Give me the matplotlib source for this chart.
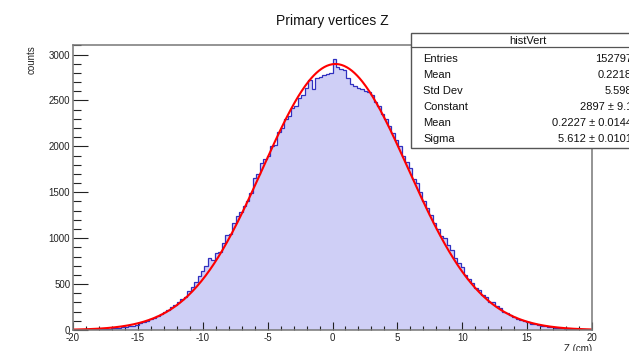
import numpy as np
import matplotlib
matplotlib.use("Agg")
import matplotlib.pyplot as plt
from matplotlib.ticker import MultipleLocator
from matplotlib.patches import Rectangle
from matplotlib.lines import Line2D

plt.rcParams['font.family'] = ['Liberation Sans', 'DejaVu Sans']
plt.rcParams['axes.unicode_minus'] = False

# ---- data ----
x_range = (-20.0, 20.0)
n_bins = 150
counts = [
    2, 3, 4, 4, 6, 7, 8, 10, 11, 13,
    15, 18, 21, 25, 30, 35, 40, 48, 55, 72,
    88, 100, 118, 135, 150, 170, 195, 222, 250, 270,
    300, 335, 360, 420, 470, 520, 590, 640, 700, 785,
    760, 840, 850, 945, 1030, 1050, 1165, 1240, 1290, 1350,
    1410, 1495, 1660, 1700, 1820, 1860, 1890, 2000, 2010, 2160,
    2200, 2300, 2330, 2420, 2440, 2530, 2560, 2640, 2725, 2620,
    2740, 2760, 2780, 2790, 2800, 2955, 2860, 2840, 2830, 2750,
    2680, 2660, 2640, 2630, 2600, 2595, 2560, 2480, 2440, 2350,
    2300, 2220, 2150, 2070, 2000, 1890, 1830, 1760, 1650, 1600,
    1500, 1410, 1330, 1250, 1170, 1100, 1020, 1000, 930, 870,
    780, 730, 690, 600, 560, 510, 458, 435, 380, 355,
    310, 300, 260, 240, 200, 190, 160, 140, 125, 110,
    95, 85, 70, 62, 55, 48, 40, 35, 30, 25,
    22, 18, 16, 13, 11, 9, 8, 6, 5, 4,
]
fit_constant = 2897.0
fit_mean = 0.2227
fit_sigma = 5.612

stat_labels = ["Entries", "Mean", "Std Dev", "Constant", "Mean", "Sigma"]
stat_values = ["152797", "0.2218", "5.598", "2897 \u00b1 9.1", "0.2227 \u00b1 0.0144", "5.612 \u00b1 0.0101"]
x_ticks = [-20, -15, -10, -5, 0, 5, 10, 15, 20]
y_ticks = [0, 500, 1000, 1500, 2000, 2500, 3000]

W, H = 629, 351
fig = plt.figure(figsize=(W / 100, H / 100), dpi=100)
left, right, bottom, top = 73, 592, 330, 45
ax = fig.add_axes([left / W, 1 - bottom / H, (right - left) / W, (bottom - top) / H])

edges = np.linspace(x_range[0], x_range[1], n_bins + 1)
ax.stairs(counts, edges, fill=True, color='#cfcff6', zorder=1)
ax.stairs(counts, edges, color='#3030c0', linewidth=0.9, zorder=2)

xf = np.linspace(x_range[0], x_range[1], 600)
yf = fit_constant * np.exp(-0.5 * ((xf - fit_mean) / fit_sigma) ** 2)
ax.plot(xf, yf, color='#ff0000', linewidth=1.5, zorder=3)

ax.set_xlim(*x_range)
ax.set_ylim(0, 3104)
ax.set_xticks(x_ticks)
ax.set_yticks(y_ticks)
ax.xaxis.set_minor_locator(MultipleLocator(1))
ax.yaxis.set_minor_locator(MultipleLocator(100))
ax.tick_params(axis='both', which='both', direction='in', top=False, right=False,
               colors='#222222', labelsize=7, width=0.8)
ax.tick_params(axis='y', which='major', length=11, pad=2)
ax.tick_params(axis='y', which='minor', length=5.6)
ax.tick_params(axis='x', which='major', length=6, pad=2.5)
ax.tick_params(axis='x', which='minor', length=3)
for lab in ax.get_xticklabels() + ax.get_yticklabels():
    lab.set_color('#222222')
for s in ax.spines.values():
    s.set_color('#777777')
    s.set_linewidth(1.1)
    s.set_zorder(4)

fig.text(32 / W, 1 - 45 / H, "counts", rotation=90, ha='center', va='top', fontsize=7, color='#222222')
fig.text(592 / W, 1 - 344.5 / H, "Z (cm)", ha='right', va='top', fontsize=7, color='#222222')
fig.text(332 / W, 1 - 21 / H, "Primary vertices Z", ha='center', va='center', fontsize=10, color='#111111')

# stats box
bx0, by0, bx1, by1 = 411, 33, 645, 148
fig.patches.append(Rectangle((bx0 / W, 1 - by1 / H), (bx1 - bx0) / W, (by1 - by0) / H,
                             transform=fig.transFigure, facecolor='white', edgecolor='#555555',
                             linewidth=1.0, zorder=10))
fig.lines.append(Line2D([bx0 / W, bx1 / W], [1 - 47 / H, 1 - 47 / H], transform=fig.transFigure,
                        color='#555555', linewidth=0.9, zorder=11))
fig.text((bx0 + bx1) / 2 / W, 1 - 40.5 / H, "histVert", ha='center', va='center', fontsize=8,
         color='#111111', zorder=12)
for k, (lab, val) in enumerate(zip(stat_labels, stat_values)):
    yy = 1 - (59 + 16 * k) / H
    fig.text(423 / W, yy, lab, ha='left', va='center', fontsize=8, color='#111111', zorder=12)
    fig.text(632 / W, yy, val, ha='right', va='center', fontsize=8, color='#111111', zorder=12)

fig.savefig("out.png", dpi=100)
